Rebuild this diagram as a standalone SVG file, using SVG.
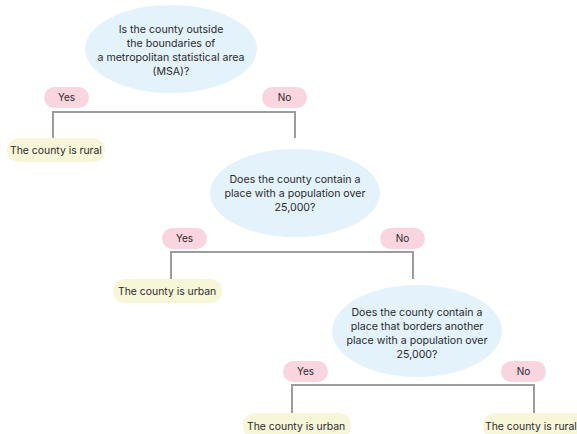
<svg xmlns="http://www.w3.org/2000/svg" width="577" height="434" viewBox="0 0 577 434">
<style>
.q{fill:#e3f2fb}
.p{fill:#f9d5df}
.r{fill:#f8f6d9}
.c{fill:none;stroke:#9a9c9e;stroke-width:2}
text{font-family:"Inter","Liberation Sans",sans-serif;font-size:10.6px;fill:#2b2b2b}
.m{text-anchor:middle}
.s{font-size:10px}
.b{font-size:10.4px}
</style>
<rect width="577" height="434" fill="#ffffff"/>
<g id="connectors">
<path class="c" d="M53,138V112H295V138"/>
<path class="c" d="M171,279V252H413V279"/>
<path class="c" d="M292,413V385H534V413"/>
</g>
<g id="q1"><ellipse class="q" cx="171" cy="49" rx="86" ry="44"/>
<text class="m" x="171" y="33">Is the county outside</text>
<text class="m" x="171" y="47">the boundaries of</text>
<text class="m" x="171" y="61">a metropolitan statistical area</text>
<text class="m" x="171" y="75">(MSA)?</text></g>
<g id="yes1"><rect class="p" x="44" y="87" width="45" height="21" rx="10.5"/><text class="m s" x="66.5" y="101">Yes</text></g>
<g id="no1"><rect class="p" x="262" y="87" width="45" height="21" rx="10.5"/><text class="m s" x="284.5" y="101">No</text></g>
<g id="rural1"><rect class="r" x="7" y="138" width="98" height="24" rx="12"/><text class="b" x="10" y="154">The county is rural</text></g>
<g id="q2"><ellipse class="q" cx="295" cy="193" rx="85" ry="44"/>
<text class="m" x="295" y="183">Does the county contain a</text>
<text class="m" x="295" y="197">place with a population over</text>
<text class="m" x="295" y="211">25,000?</text></g>
<g id="yes2"><rect class="p" x="162" y="228" width="45" height="21" rx="10.5"/><text class="m s" x="184.5" y="242">Yes</text></g>
<g id="no2"><rect class="p" x="380" y="228" width="45" height="21" rx="10.5"/><text class="m s" x="402.5" y="242">No</text></g>
<g id="urban1"><rect class="r" x="113" y="279" width="109" height="24" rx="12"/><text class="b" x="118" y="295">The county is urban</text></g>
<g id="q3"><ellipse class="q" cx="417" cy="331" rx="85" ry="46"/>
<text class="m" x="417" y="316">Does the county contain a</text>
<text class="m" x="417" y="330">place that borders another</text>
<text class="m" x="417" y="344">place with a population over</text>
<text class="m" x="417" y="358">25,000?</text></g>
<g id="yes3"><rect class="p" x="283" y="361" width="45" height="21" rx="10.5"/><text class="m s" x="305.5" y="375">Yes</text></g>
<g id="no3"><rect class="p" x="501" y="361" width="45" height="21" rx="10.5"/><text class="m s" x="523.5" y="375">No</text></g>
<g id="urban2"><rect class="r" x="243" y="413" width="108" height="26" rx="12"/><text class="b" x="247" y="430">The county is urban</text></g>
<g id="rural2"><rect class="r" x="483" y="413" width="110" height="26" rx="12"/><text class="b" x="485" y="430">The county is rural</text></g>
</svg>
